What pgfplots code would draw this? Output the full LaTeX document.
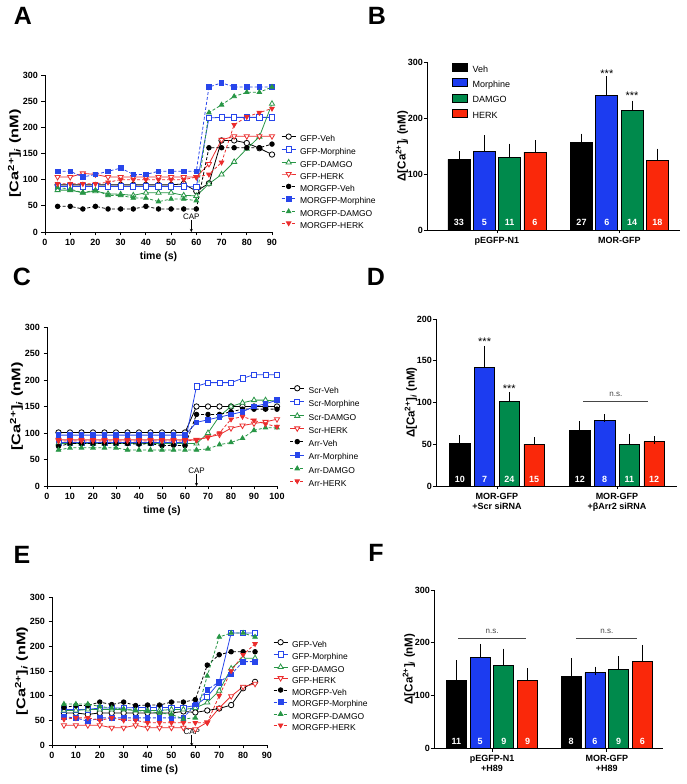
\documentclass[border=0pt]{standalone}
\usepackage{fontspec}
\setmainfont{Liberation Sans}
\usepackage{pgfplots}
\usepackage{pgfplotstable}
\pgfplotsset{compat=1.18}
\usetikzlibrary{arrows.meta}

\definecolor{cBl}{RGB}{28,60,240}
\definecolor{cGr}{RGB}{0,138,76}
\definecolor{cRd}{RGB}{250,40,10}
\definecolor{lBl}{RGB}{40,70,235}
\definecolor{lGr}{RGB}{40,150,70}
\definecolor{lRd}{RGB}{235,45,45}
\definecolor{NS}{RGB}{70,70,70}

\tikzset{
  CT/.style={text=white, font=\bfseries\fontsize{9}{9}\selectfont},
  LT/.style={font=\bfseries\fontsize{25}{25}\selectfont},
  ST/.style={font=\fontsize{11}{11}\selectfont},
}

\pgfplotsset{
  PR/.style={scale only axis, axis lines=left, axis line style={-, line width=0.8pt},
    tick align=outside, major tick length=3.5pt, tick style={black, line width=0.8pt},
    ticklabel style={font=\bfseries\fontsize{9}{10}\selectfont},
    label style={font=\bfseries\fontsize{10.5}{12}\selectfont},
    /pgf/number format/assume math mode=true, clip=false, anchor=south west},
  LN/.style={PR, ymin=0, ymax=300, ytick={0,50,...,300}, xlabel={time (s)},
    ylabel={[Ca\textsuperscript{2+}]\textsubscript{\textit{i}} (nM)},
    ylabel style={font=\bfseries\fontsize{12.5}{13}\selectfont, xscale=1.3},
    ylabel shift=-5pt,
    legend cell align=left,
    legend style={draw=none, fill=none, inner sep=0pt, anchor=north west,
      font=\fontsize{8.5}{9}\selectfont,
      nodes={inner sep=0pt, text height=6.5pt, text depth=1.5pt},
      /tikz/every odd column/.append style={column sep=4pt}},
    legend image code/.code={\draw[mark repeat=2, mark phase=2, ##1] plot coordinates {(0pt,2.5pt)(7pt,2.5pt)(14pt,2.5pt)};},
    every axis plot/.append style={line width=0.8pt}},
  BR/.style={PR, ymin=0, xtick={1,2}, xticklabel style={align=center},
    yticklabel style={xshift=3pt}, ylabel shift=-7pt,
    ylabel style={font=\bfseries\fontsize{11.5}{12}\selectfont},
    ylabel={Δ[Ca\textsuperscript{2+}]\textsubscript{\textit{i}} (nM)}},
  BAR/.style={ybar, draw=black, line width=0.8pt},
  ERR/.style={forget plot, mark=none, draw=none,
    error bars/y dir=plus, error bars/y explicit,
    error bars/error bar style={draw=black, solid, line width=0.8pt},
    error bars/error mark options={draw=black, solid, line width=0.8pt, mark size=4pt}},
  BLG/.style={legend image code/.code={\draw[##1] (0pt,-1.5pt) rectangle (15pt,6.5pt);}},
  dsh/.style={dash pattern=on 3pt off 2pt},
  sV/.style={black, mark=*, mark size=2.7pt, mark options={solid, fill=white}},
  sM/.style={lBl, mark=square*, mark size=2.6pt, mark options={solid, fill=white}},
  sD/.style={lGr, mark=triangle*, mark size=3pt, mark options={solid, fill=white}},
  sH/.style={lRd, mark=triangle*, mark size=3pt, mark options={solid, fill=white, rotate=180}},
  fV/.style={black, dsh, mark=*, mark size=2.3pt, mark options={solid}},
  fM/.style={lBl, dsh, mark=square*, mark size=2.3pt, mark options={solid}},
  fD/.style={lGr, dsh, mark=triangle*, mark size=2.6pt, mark options={solid}},
  fH/.style={lRd, dsh, mark=triangle*, mark size=2.6pt, mark options={solid, rotate=180}},
}

% panel A
\pgfplotstableread{
t   GV  GM  GD  GH  MV  MM  MD  MH
5   90  87  80  105 49  116 85  92
10  90  87  80  105 49  116 82  92
15  90  87  75  112 44  105 75  92
20  90  87  78  110 49  110 80  92
25  90  87  73  105 44  116 70  95
30  90  87  72  105 44  122 70  100
35  90  87  70  105 44  110 65  100
40  90  87  75  105 49  110 65  100
45  90  87  75  105 44  116 58  100
50  90  87  75  105 44  116 63  100
55  92  87  70  105 44  116 63  100
60  78  86  69  105 44  116 60  105
65  93  218 92  130 161 277 228 110
70  175 219 110 176 161 285 243 133
75  175 219 134 183 161 277 259 205
80  170 219 159 183 161 277 267 220
85  160 219 182 183 161 277 267 228
90  148 219 245 183 168 277 277 236
}\tabA

% panel C
\pgfplotstableread{
t   SV  SM  SD  SH  AV  AM  AD  AH
5   101 82  80  87  75  96  68  85
10  101 82  80  87  80  96  72  85
15  101 82  80  87  80  96  72  85
20  101 82  80  87  80  96  72  85
25  101 82  80  87  80  96  72  85
30  101 82  80  87  80  96  72  85
35  101 82  80  87  80  96  68  85
40  101 82  80  87  79  96  68  85
45  101 82  80  87  80  96  68  85
50  101 82  80  87  76  96  68  85
55  101 82  80  87  77  96  68  85
60  101 82  80  87  76  96  68  85
65  150 188 80  87  135 120 68  87
70  150 195 100 92  135 125 70  92
75  150 195 132 97  135 130 78  100
80  150 195 150 109 140 135 82  126
85  150 203 157 114 145 140 90  131
90  150 210 162 118 145 150 105 124
95  150 210 162 121 145 155 110 117
100 150 210 160 126 145 162 110 112
}\tabC

% panel E
\pgfplotstableread{
t   GV  GM  GD  GH  MV  MM  MD  MH
5   65  72  70  40  76  57  83  52
10  65  72  70  40  80  55  83  55
15  62  72  72  40  80  48  83  55
20  65  75  72  40  87  55  78  50
25  65  75  72  35  82  55  75  55
30  65  75  72  35  87  55  73  50
35  65  76  70  40  80  55  70  50
40  65  76  70  35  81  55  68  45
45  65  76  70  35  81  55  65  45
50  65  76  72  35  87  55  62  45
55  68  76  72  35  87  55  53  45
60  66  80  75  32  92  82  55  45
65  70  98  86  46  162 112 140 45
70  74  127 110 75  183 128 219 100
75  81  227 155 99  189 143 227 150
80  115 227 176 118 189 169 227 183
85  128 227 176 124 189 169 219 205
}\tabE

\begin{document}
\begin{tikzpicture}
\path[use as bounding box] (0pt,0pt) rectangle (686pt,784pt);

\node[LT] at (23pt,768pt) {A};
\node[LT] at (377pt,768pt) {B};
\node[LT] at (22pt,507pt) {C};
\node[LT] at (376pt,507pt) {D};
\node[LT] at (22pt,229pt) {E};
\node[LT] at (376pt,231pt) {F};

% ---- A
\begin{axis}[LN, at={(45pt,552pt)}, width=227pt, height=157pt,
  xmin=0, xmax=90, xtick={0,10,...,90},
  legend style={at={(1.04,0.626)}, /tikz/row sep=3.6pt}]
\addplot[sV] table[x=t,y=GV] {\tabA}; \addlegendentry{GFP-Veh}
\addplot[sM] table[x=t,y=GM] {\tabA}; \addlegendentry{GFP-Morphine}
\addplot[sD] table[x=t,y=GD] {\tabA}; \addlegendentry{GFP-DAMGO}
\addplot[sH] table[x=t,y=GH] {\tabA}; \addlegendentry{GFP-HERK}
\addplot[fV] table[x=t,y=MV] {\tabA}; \addlegendentry{MORGFP-Veh}
\addplot[fM] table[x=t,y=MM] {\tabA}; \addlegendentry{MORGFP-Morphine}
\addplot[fD] table[x=t,y=MD] {\tabA}; \addlegendentry{MORGFP-DAMGO}
\addplot[fH] table[x=t,y=MH] {\tabA}; \addlegendentry{MORGFP-HERK}
\node[font=\fontsize{8}{8}\selectfont] at (axis cs:58,30) {CAP};
\draw[line width=0.7pt, -{Stealth[length=3pt,width=3pt]}] (axis cs:58,23) -- (axis cs:58,0);
\end{axis}

% ---- C
\begin{axis}[LN, at={(47pt,298pt)}, width=230pt, height=159pt,
  xmin=0, xmax=100, xtick={0,10,...,100},
  legend style={at={(1.055,0.633)}, /tikz/row sep=4.5pt}]
\addplot[sV] table[x=t,y=SV] {\tabC}; \addlegendentry{Scr-Veh}
\addplot[sM] table[x=t,y=SM] {\tabC}; \addlegendentry{Scr-Morphine}
\addplot[sD] table[x=t,y=SD] {\tabC}; \addlegendentry{Scr-DAMGO}
\addplot[sH] table[x=t,y=SH] {\tabC}; \addlegendentry{Scr-HERK}
\addplot[fV] table[x=t,y=AV] {\tabC}; \addlegendentry{Arr-Veh}
\addplot[fM, solid] table[x=t,y=AM] {\tabC}; \addlegendentry{Arr-Morphine}
\addplot[fD] table[x=t,y=AD] {\tabC}; \addlegendentry{Arr-DAMGO}
\addplot[fH] table[x=t,y=AH] {\tabC}; \addlegendentry{Arr-HERK}
\node[font=\fontsize{8}{8}\selectfont] at (axis cs:65,29) {CAP};
\draw[line width=0.7pt, -{Stealth[length=3pt,width=3pt]}] (axis cs:65,22) -- (axis cs:65,0);
\end{axis}

% ---- E
\begin{axis}[LN, at={(52pt,39pt)}, width=215pt, height=148pt,
  xmin=0, xmax=90, xtick={0,10,...,90},
  legend style={at={(1.028,0.714)}, /tikz/row sep=3.1pt}]
\addplot[sV] table[x=t,y=GV] {\tabE}; \addlegendentry{GFP-Veh}
\addplot[sM] table[x=t,y=GM] {\tabE}; \addlegendentry{GFP-Morphine}
\addplot[sD] table[x=t,y=GD] {\tabE}; \addlegendentry{GFP-DAMGO}
\addplot[sH] table[x=t,y=GH] {\tabE}; \addlegendentry{GFP-HERK}
\addplot[fV] table[x=t,y=MV] {\tabE}; \addlegendentry{MORGFP-Veh}
\addplot[fM] table[x=t,y=MM] {\tabE}; \addlegendentry{MORGFP-Morphine}
\addplot[fD] table[x=t,y=MD] {\tabE}; \addlegendentry{MORGFP-DAMGO}
\addplot[fH] table[x=t,y=MH] {\tabE}; \addlegendentry{MORGFP-HERK}
\node[font=\fontsize{8}{8}\selectfont] at (axis cs:58.5,27) {CAP};
\draw[line width=0.7pt, -{Stealth[length=3pt,width=3pt]}] (axis cs:58.5,20) -- (axis cs:58.5,-2);
\end{axis}

% ---- B
\begin{axis}[BR, at={(427pt,554pt)}, width=253pt, height=168pt,
  xmin=0.429, xmax=2.494, ymax=300, ytick={0,100,200,300}, bar width=0.18,
  xticklabels={pEGFP-N1,MOR-GFP},
  legend cell align=left,
  legend style={draw=none, fill=none, inner sep=0pt, anchor=north west,
    at={(0.0976,0.993)}, font=\fontsize{9}{10}\selectfont,
    nodes={inner sep=0pt, text height=7pt, text depth=2pt},
    /tikz/row sep=3.7pt, /tikz/every odd column/.append style={column sep=5pt}}]
\addplot[BAR, fill=black, draw=black, bar shift=-0.31, BLG] coordinates {(1,126) (2,157)};
\addlegendentry{Veh}
\addplot[BAR, fill=cBl, draw=black, bar shift=-0.103, BLG] coordinates {(1,141) (2,240)};
\addlegendentry{Morphine}
\addplot[BAR, fill=cGr, draw=black, bar shift=0.103, BLG] coordinates {(1,130) (2,214)};
\addlegendentry{DAMGO}
\addplot[BAR, fill=cRd, draw=black, bar shift=0.31, BLG] coordinates {(1,139) (2,124)};
\addlegendentry{HERK}
\addplot[ERR] coordinates {
  (0.69,126) +- (0,8) (0.897,141) +- (0,21) (1.103,130) +- (0,17) (1.31,139) +- (0,14)
  (1.69,157) +- (0,8) (1.897,240) +- (0,27) (2.103,214) +- (0,10) (2.31,124) +- (0,14)};
\foreach \x/\n in {0.69/33,0.897/5,1.103/11,1.31/6,1.69/27,1.897/6,2.103/14,2.31/18}
  {\edef\tmp{\noexpand\node[CT] at (axis cs:\x,13) {\n};}\tmp}
\node[ST] at (axis cs:1.897,279) {***};
\node[ST] at (axis cs:2.103,240) {***};
\end{axis}

% ---- D
\begin{axis}[BR, at={(436pt,298pt)}, width=241pt, height=167pt,
  xmin=0.492, xmax=2.5, ymax=200, ytick={0,50,...,200}, bar width=0.171,
  xticklabels={{MOR-GFP\\+Scr siRNA},{MOR-GFP\\+βArr2 siRNA}}]
\addplot[BAR, fill=black, draw=black, bar shift=-0.31] coordinates {(1,51) (2,66)};
\addplot[BAR, fill=cBl, draw=black, bar shift=-0.103] coordinates {(1,142) (2,78)};
\addplot[BAR, fill=cGr, draw=black, bar shift=0.103] coordinates {(1,101) (2,50)};
\addplot[BAR, fill=cRd, draw=black, bar shift=0.31] coordinates {(1,50) (2,53)};
\addplot[ERR] coordinates {
  (0.69,51) +- (0,5) (0.897,142) +- (0,21) (1.103,101) +- (0,7) (1.31,50) +- (0,3.5)
  (1.69,66) +- (0,7) (1.897,78) +- (0,3) (2.103,50) +- (0,8) (2.31,53) +- (0,2)};
\foreach \x/\n in {0.69/10,0.897/7,1.103/24,1.31/15,1.69/12,1.897/8,2.103/11,2.31/12}
  {\edef\tmp{\noexpand\node[CT] at (axis cs:\x,7.5) {\n};}\tmp}
\node[ST] at (axis cs:0.897,173) {***};
\node[ST] at (axis cs:1.103,117) {***};
\draw[NS, line width=0.8pt] (axis cs:1.719,101.5) -- (axis cs:2.26,101.5);
\node[NS, font=\fontsize{8}{8}\selectfont] at (axis cs:1.99,110) {n.s.};
\end{axis}

% ---- F
\begin{axis}[BR, at={(434pt,36pt)}, width=229pt, height=158pt,
  xmin=0.494, xmax=2.49, ymax=300, ytick={0,100,200,300}, bar width=0.174,
  xticklabels={{pEGFP-N1\\+H89},{MOR-GFP\\+H89}}]
\addplot[BAR, fill=black, draw=black, bar shift=-0.31] coordinates {(1,129) (2,136)};
\addplot[BAR, fill=cBl, draw=black, bar shift=-0.103] coordinates {(1,172) (2,143)};
\addplot[BAR, fill=cGr, draw=black, bar shift=0.103] coordinates {(1,156) (2,150)};
\addplot[BAR, fill=cRd, draw=black, bar shift=0.31] coordinates {(1,129) (2,164)};
\addplot[ERR] coordinates {
  (0.69,129) +- (0,30) (0.897,172) +- (0,18) (1.103,156) +- (0,25) (1.31,129) +- (0,15)
  (1.69,136) +- (0,27) (1.897,143) +- (0,4) (2.103,150) +- (0,17) (2.31,164) +- (0,24)};
\foreach \x/\n in {0.69/11,0.897/5,1.103/9,1.31/9,1.69/8,1.897/6,2.103/9,2.31/6}
  {\edef\tmp{\noexpand\node[CT] at (axis cs:\x,12) {\n};}\tmp}
\draw[NS, line width=0.8pt] (axis cs:0.706,209) -- (axis cs:1.296,209);
\node[NS, font=\fontsize{8}{8}\selectfont] at (axis cs:1.0,222) {n.s.};
\draw[NS, line width=0.8pt] (axis cs:1.73,209) -- (axis cs:2.262,209);
\node[NS, font=\fontsize{8}{8}\selectfont] at (axis cs:2.0,222) {n.s.};
\end{axis}
\end{tikzpicture}
\end{document}
